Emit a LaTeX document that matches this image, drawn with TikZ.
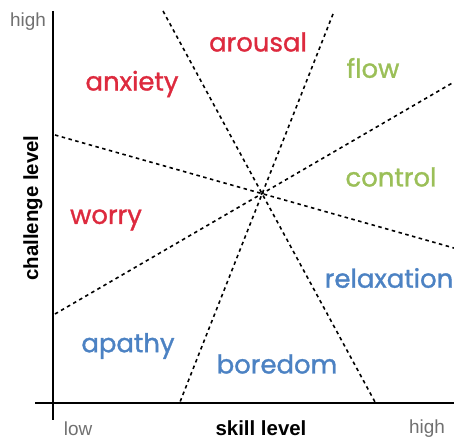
\documentclass[tikz,border=0pt]{standalone}
\usepackage{fontspec}
\setmainfont{Liberation Sans}
\newfontfamily\labfont{Poppins}[FakeBold=1.2]
\definecolor{cred}{HTML}{DD2A3E}
\definecolor{cgreen}{HTML}{9BBF58}
\definecolor{cblue}{HTML}{4C82C3}
\definecolor{cgray}{HTML}{707070}
\begin{document}
\begin{tikzpicture}[x=1bp,y=-1bp,
  axis/.style={line width=2.2bp,black},
  divider/.style={line width=1.6bp,dash pattern=on 3.5bp off 3.5bp},
  zone/.style={font=\labfont\fontsize{26}{29}\selectfont,inner sep=0pt},
  tick/.style={font=\fontsize{19}{22}\selectfont,text=cgray,inner sep=0pt},
  axlabel/.style={font=\bfseries\fontsize{20.5}{23}\selectfont,inner sep=0pt}]
\useasboundingbox (0,0) rectangle (454,440);
% axes
\coordinate (ytop) at (53,11);
\coordinate (ybot) at (53,420);
\coordinate (xl) at (35,403);
\coordinate (xr) at (454,403);
\draw[axis] (ytop) -- (ybot);
\draw[axis] (xl) -- (xr);
% divider endpoints
\coordinate (c) at (262,193.5);
\coordinate (a1) at (163,11);
\coordinate (a2) at (375,402);
\coordinate (b1) at (333,14);
\coordinate (b2) at (180,402);
\coordinate (d1) at (55,135);
\coordinate (d2) at (454,248);
\coordinate (e1) at (55,314);
\coordinate (e2) at (454,82);
\draw[divider] (a1) -- (a2);
\draw[divider] (b1) -- (b2);
\draw[divider] (d1) -- (d2);
\draw[divider] (e1) -- (e2);
% zone labels
\node[zone,text=cred] (arousal) at (258,42) {arousal};
\node[zone,text=cred] (anxiety) at (132,84) {anxiety};
\node[zone,text=cgreen] (flow) at (373,68) {flow};
\node[zone,text=cgreen] (control) at (391,177) {control};
\node[zone,text=cred] (worry) at (106,220) {worry};
\node[zone,text=cblue] (relaxation) at (389,278) {relaxation};
\node[zone,text=cblue] (apathy) at (128,346) {apathy};
\node[zone,text=cblue] (boredom) at (277,364) {boredom};
% axis texts
\node[tick] (yhigh) at (28,22) {high};
\node[tick] (xlow) at (78,429) {low};
\node[tick] (xhigh) at (427,429) {high};
\node[axlabel] (skill) at (261,428.5) {skill level};
\node[axlabel,rotate=90] (chal) at (33,208) {challenge level};
\end{tikzpicture}
\end{document}
